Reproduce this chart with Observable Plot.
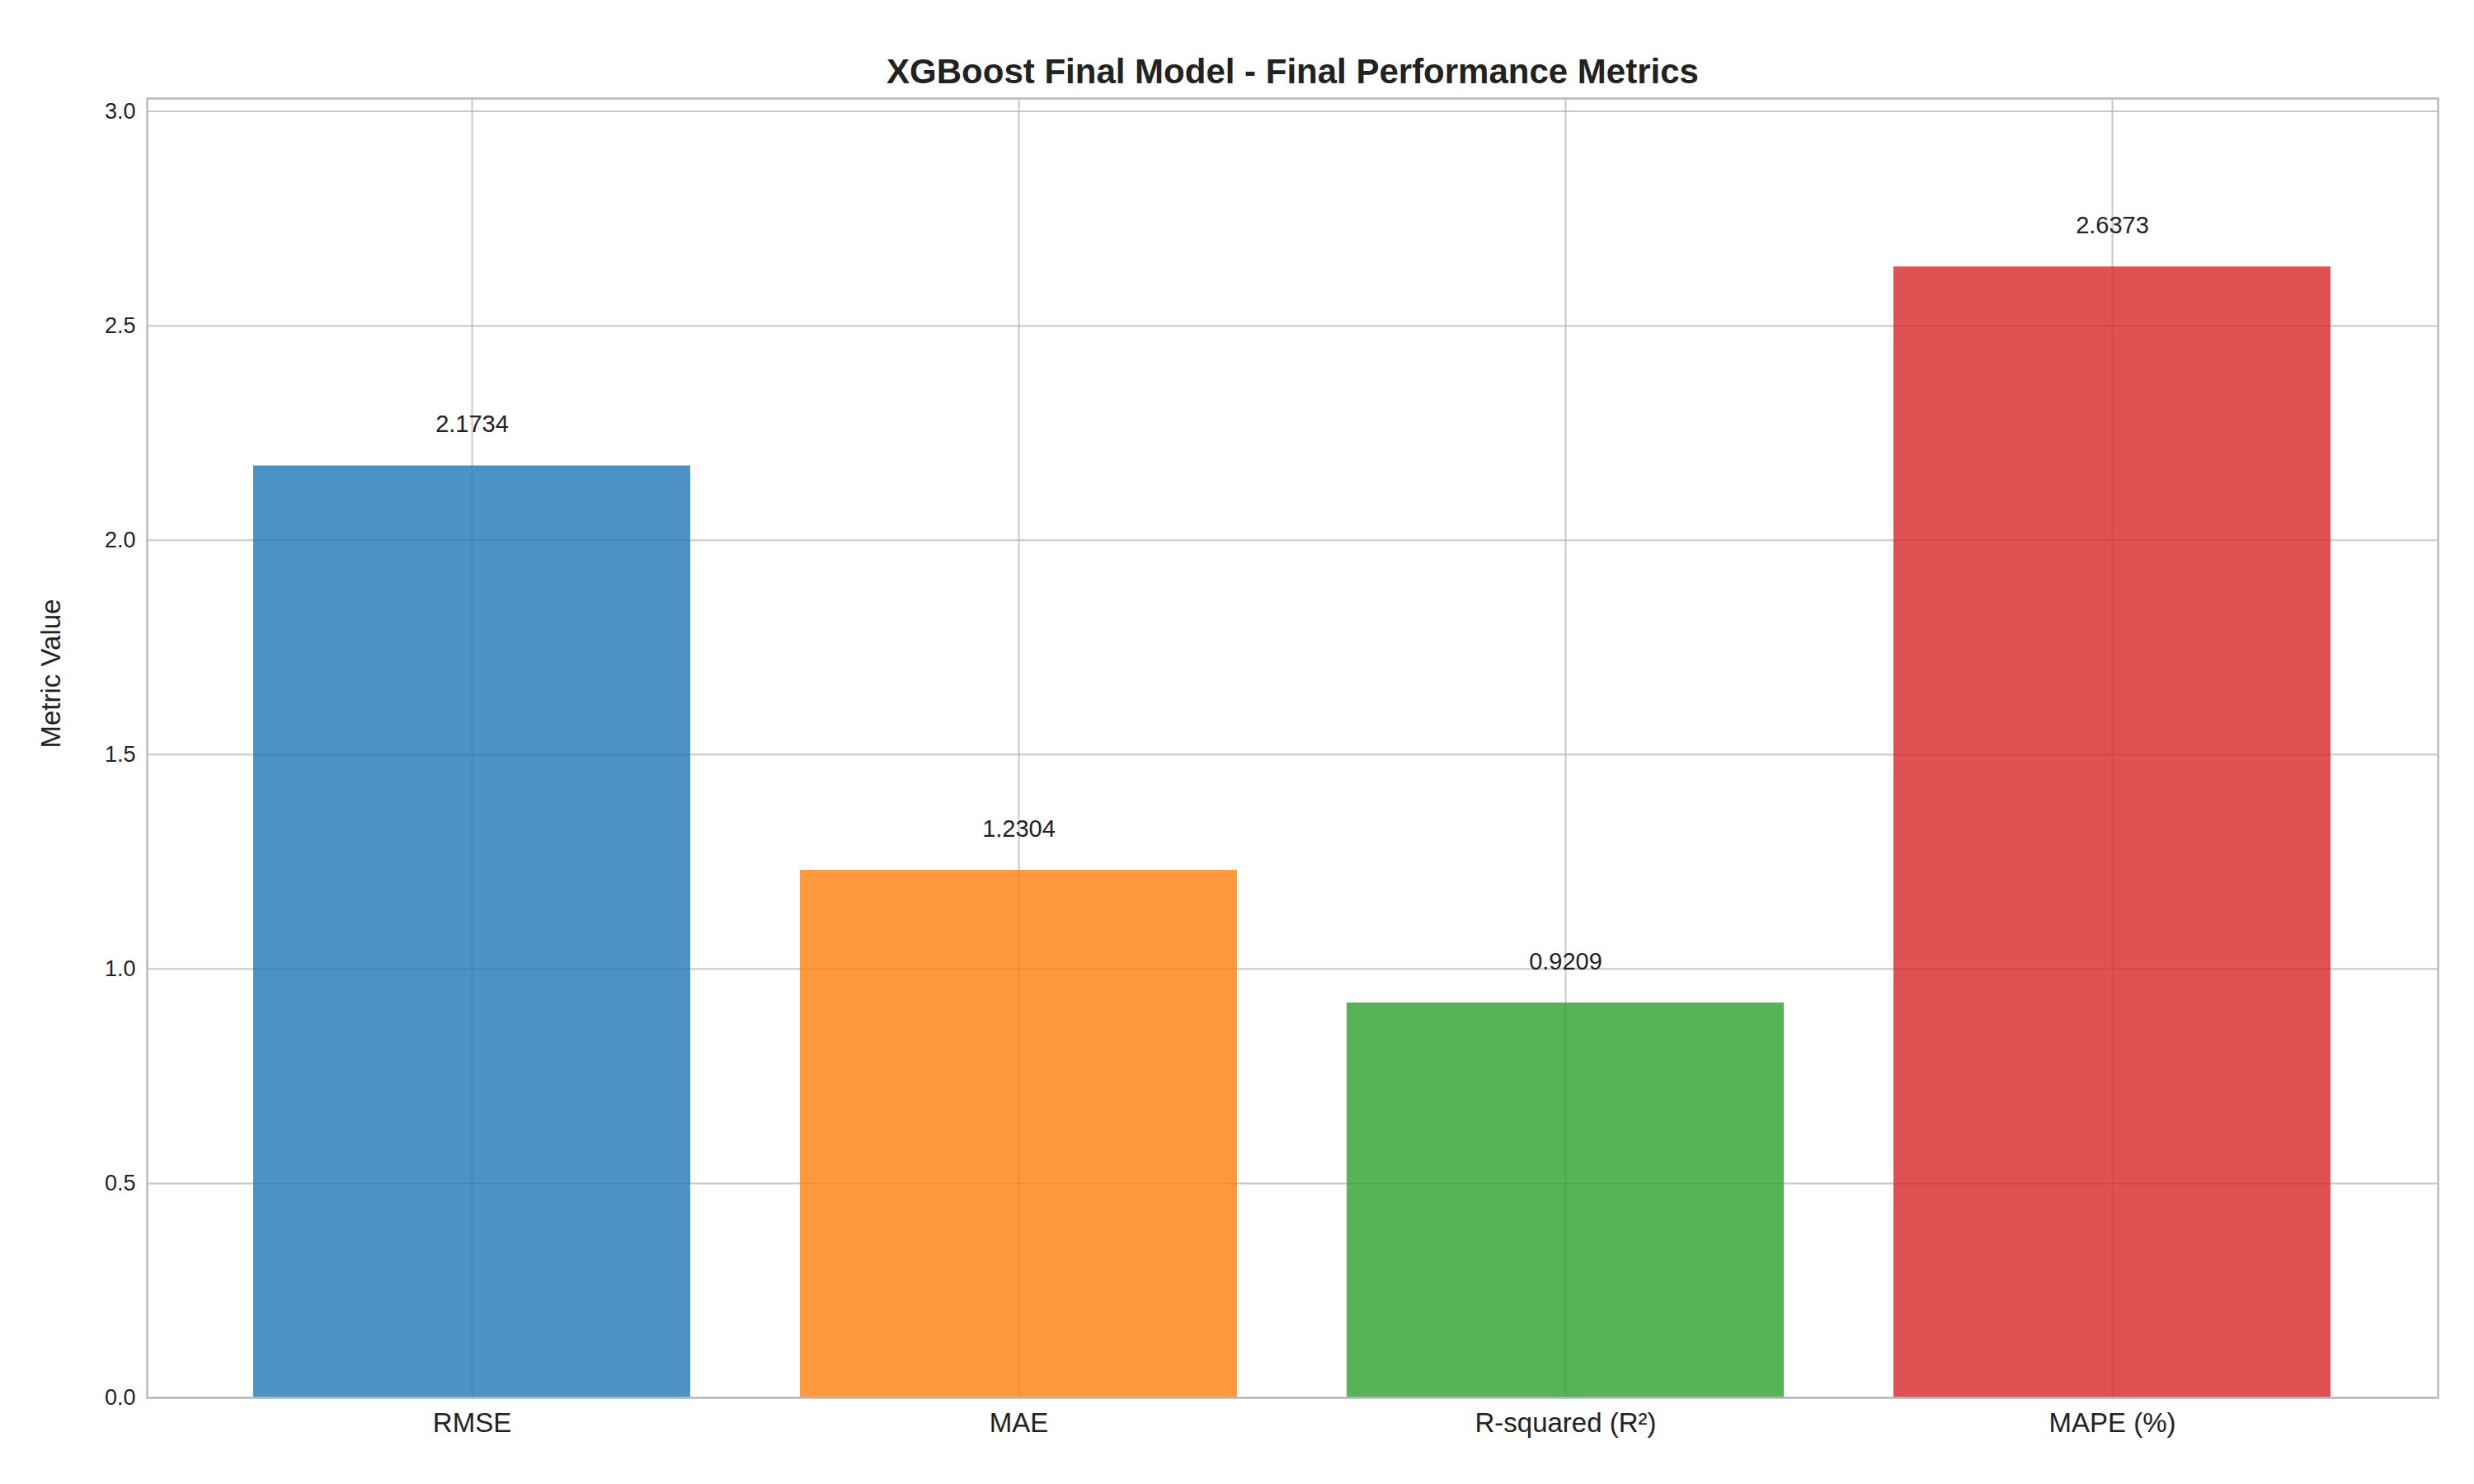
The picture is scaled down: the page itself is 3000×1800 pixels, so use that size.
<!DOCTYPE html>
<html>
<head>
<meta charset="utf-8">
<script src="https://cdn.jsdelivr.net/npm/d3@7"></script>
<script src="https://cdn.jsdelivr.net/npm/@observablehq/plot@0.6"></script>
<style>
  body { margin: 0; background: #fff; font-family: "Liberation Sans", Arial, sans-serif; }
</style>
</head>
<body>
<div id="chart"></div>
<script>
const metrics = ["RMSE", "MAE", "R-squared (R²)", "MAPE (%)"]
const values = [2.1734, 1.2304, 0.9209, 2.6373]
const colors = ["#1f77b4", "#ff7f0e", "#2ca02c", "#d62728"]
const yTicks = [0, 0.5, 1.0, 1.5, 2.0, 2.5, 3.0]

const data = metrics.map((m, i) => ({metric: m, value: values[i], color: colors[i]}))

let chart = Plot.plot({
  width: 3000,
  height: 1800,
  marginTop: 119,
  marginBottom: 105,
  marginLeft: 178,
  marginRight: 44,
  style: {fontFamily: "Liberation Sans, Arial, sans-serif", fontSize: "27px", color: "#222"},
  x: {domain: metrics, paddingInner: 0.2, paddingOuter: 0.192, label: null},
  y: {domain: [0, 3.03], label: null},
  marks: [
    Plot.gridX(metrics, {stroke: "#b0b0b0", strokeOpacity: 0.7, strokeWidth: 2}),
    Plot.gridY(yTicks, {stroke: "#b0b0b0", strokeOpacity: 0.7, strokeWidth: 2}),
    Plot.barY(data, {x: "metric", y: "value", fill: "color", fillOpacity: 0.8}),
    Plot.text(data, {x: "metric", y: "value", text: d => d.value.toFixed(4), dy: -50, fontSize: 29, fill: "#222"}),
    Plot.axisY(yTicks, {tickFormat: ".1f", tickSize: 0, tickPadding: 14, fontSize: 27, label: null}),
    Plot.axisX({tickSize: 0, tickPadding: 18, fontSize: 33, label: null}),
    Plot.frame({stroke: "#bbbbbb", strokeWidth: 2.5}),
    Plot.text(["Metric Value"], {frameAnchor: "left", dx: -116, rotate: -90, fontSize: 33}),
    Plot.text(["XGBoost Final Model - Final Performance Metrics"], {frameAnchor: "top", dy: -48, fontSize: 42, fontWeight: "bold"})
  ]
})

d3.select('#chart').append(() => chart)
</script>
</body>
</html>
